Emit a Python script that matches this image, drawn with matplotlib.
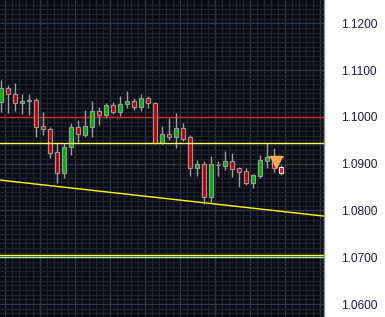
import matplotlib
matplotlib.use("Agg")
import matplotlib.pyplot as plt
import numpy as np
from matplotlib.ticker import MultipleLocator, FixedLocator

# OHLC candles
opens  = [1.1031, 1.1061, 1.1048, 1.1029, 1.1035, 1.1036, 1.0981, 1.0974, 1.0924, 1.0881,
          1.0935, 1.0978, 1.0961, 1.0979, 1.1013, 1.1003, 1.1025, 1.1011, 1.1027, 1.1034,
          1.1022, 1.1041, 1.1030, 1.0944, 1.0963, 1.0958, 1.0977, 1.0956, 1.0890, 1.0899,
          1.0829, 1.0897, 1.0895, 1.0906, 1.0890, 1.0884, 1.0859, 1.0874, 1.0906, 1.0913,
          1.0892]
highs  = [1.1079, 1.1068, 1.1072, 1.1049, 1.1049, 1.1040, 1.1010, 1.0979, 1.0944, 1.0944,
          1.0986, 1.0993, 1.1015, 1.1034, 1.1022, 1.1030, 1.1032, 1.1045, 1.1056, 1.1041,
          1.1049, 1.1045, 1.1032, 1.0981, 1.0998, 1.1009, 1.0988, 1.0961, 1.0908, 1.0906,
          1.0916, 1.0906, 1.0927, 1.0922, 1.0894, 1.0890, 1.0878, 1.0919, 1.0944, 1.0933,
          1.0897]
lows   = [1.1011, 1.1008, 1.1013, 1.1006, 1.1005, 1.0958, 1.0961, 1.0912, 1.0858, 1.0869,
          1.0919, 1.0947, 1.0958, 1.0958, 1.0983, 1.0998, 1.1006, 1.1002, 1.1018, 1.1015,
          1.1013, 1.1018, 1.0943, 1.0943, 1.0951, 1.0934, 1.0949, 1.0874, 1.0874, 1.0814,
          1.0815, 1.0874, 1.0887, 1.0871, 1.0851, 1.0854, 1.0849, 1.0869, 1.0891, 1.0883,
          1.0876]
closes = [1.1061, 1.1048, 1.1029, 1.1034, 1.1035, 1.0979, 1.0974, 1.0923, 1.0881, 1.0935,
          1.0978, 1.0963, 1.0981, 1.1013, 1.1003, 1.1025, 1.1011, 1.1028, 1.1034, 1.1022,
          1.1041, 1.1029, 1.0944, 1.0963, 1.0958, 1.0977, 1.0953, 1.0890, 1.0900, 1.0829,
          1.0899, 1.0897, 1.0906, 1.0889, 1.0883, 1.0859, 1.0876, 1.0908, 1.0914, 1.0891,
          1.0881]

# horizontal levels
red_level = 1.1000
yellow_level = 1.0944
low_yellow_level = 1.0704
low_green_level = 1.0701
# trend line endpoints (candle index, price)
trend_x = [-0.15, 46.15]
trend_y = [1.0865, 1.0788]
# order marker
marker_x = 39.3
marker_y = 1.0903
marker_bar_y = 1.0914

yticks = [1.06, 1.07, 1.08, 1.09, 1.10, 1.11, 1.12]
ytick_labels = ["1.0600", "1.0700", "1.0800", "1.0900", "1.1000", "1.1100", "1.1200"]

W, H = 385, 317
fig = plt.figure(figsize=(W / 100, H / 100), dpi=100, facecolor="white")
ax = fig.add_axes([0, 0, 324 / W, 1])
ax.set_facecolor("#0b0b10")

xmin, xmax = -0.15, 46.15
ymin, ymax = 1.05724, 1.12498
ax.set_xlim(xmin, xmax)
ax.set_ylim(ymin, ymax)

# grid
ax.xaxis.set_major_locator(FixedLocator(np.arange(0.55, 47, 5)))
ax.xaxis.set_minor_locator(FixedLocator(np.arange(0.55, 47, 1)))
ax.yaxis.set_major_locator(FixedLocator(yticks))
ax.yaxis.set_minor_locator(MultipleLocator(0.001))
ax.grid(which="minor", color="#1c2232", linewidth=0.9)
ax.grid(which="major", color="#2d384c", linewidth=1.0)
ax.set_axisbelow(True)

ax.tick_params(axis="x", which="both", length=0, labelbottom=False)
ax.yaxis.tick_right()
ax.tick_params(axis="y", which="both", length=0, pad=12.5, labelsize=8.6,
               labelcolor="#1c1c3c")
ax.set_yticklabels(ytick_labels, fontfamily="Liberation Sans")

for s in ["top", "bottom", "left"]:
    ax.spines[s].set_visible(False)
ax.spines["right"].set_color("#8a90a8")
ax.spines["right"].set_linewidth(1.0)

# levels
ax.axhline(red_level, color="#e02020", linewidth=1.0, zorder=2)
ax.axhline(yellow_level, color="#ffff60", linewidth=1.0, zorder=4)
ax.axhline(low_yellow_level, color="#ffff40", linewidth=1.0, zorder=2)
ax.axhline(low_green_level, color="#a0f0a0", linewidth=1.0, zorder=2)
ax.plot(trend_x, trend_y, color="#ffff00", linewidth=1.0, zorder=2)

# candles
n = len(opens)
x = np.arange(n)
o = np.array(opens); c = np.array(closes)
hi = np.array(highs); lo = np.array(lows)
ax.vlines(x, lo, hi, color="#a0a0a0", linewidth=1.0, zorder=3)
bottoms = np.minimum(o, c)
heights = np.maximum(np.abs(c - o), 0.00004)
colors = np.where(c > o, "#00b400", "#c00000")
colors = np.where(np.abs(c - o) < 0.00005, "#a0a0a0", colors)
colors = list(colors)
edges = ["#9a9a9a"] * n
colors[-1] = "#ff0000"
edges[-1] = "#f0f0f0"
ax.bar(x, heights, bottom=bottoms, width=0.62, color=colors, edgecolor=edges,
       linewidth=0.8, zorder=3.5)

# order marker
ax.plot([marker_x - 0.95, marker_x + 0.95], [marker_bar_y, marker_bar_y],
        color="#a8a8a8", linewidth=1.2, zorder=5)
ax.plot([marker_x], [marker_y], marker="v", markersize=8, color="#ffb050",
        markeredgecolor="#ffb050", zorder=5, alpha=0.9)

fig.savefig("out.png", dpi=100, facecolor="white")
